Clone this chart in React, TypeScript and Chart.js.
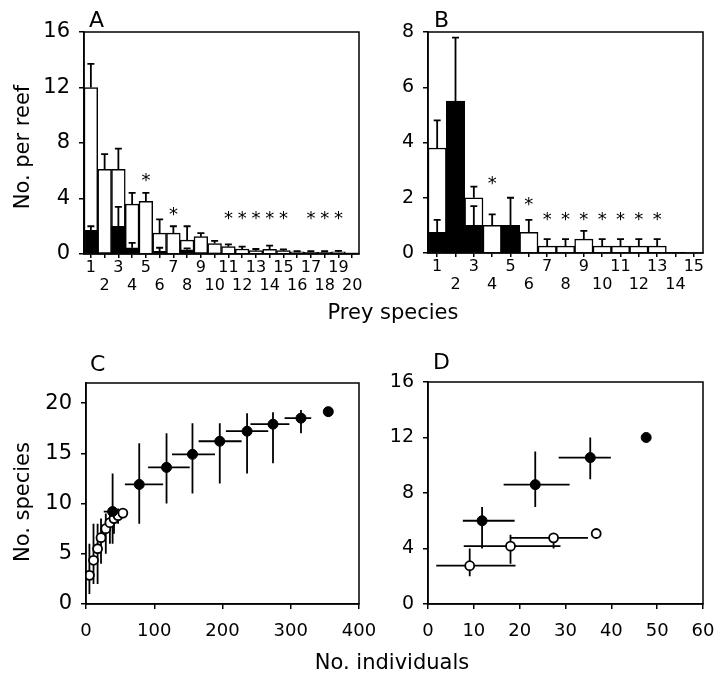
import React, { useEffect, useRef } from "react";
import { Chart, registerables } from "chart.js";
Chart.register(...registerables);

const W = 718;
const H = 676;
const FONT = '"DejaVu Sans", "Liberation Sans", sans-serif';

// ---------- Panel A data ----------
const preyA = ["1","2","3","4","5","6","7","8","9","10","11","12","13","14","15","16","17","18","19","20"];
const aOpen = [12, 6.1, 6.1, 3.6, 3.8, 1.5, 1.5, 1.0, 1.25, 0.75, 0.53, 0.36, 0.24, 0.34, 0.24, 0.15, 0.12, 0.12, 0.15, 0.08];
const aOpenErr = [13.7, 7.2, 7.6, 4.4, 4.4, 2.5, 2.0, 2.0, 1.5, 0.95, 0.7, 0.53, 0.36, 0.6, 0.34, 0.2, 0.2, 0.2, 0.22, null];
const aFilled = [1.7, 0.1, 2.0, 0.45, 0, 0.2, 0, 0.3, 0.1, 0.08, 0.05, 0.05, 0.05, 0.05, 0.05, 0.08, 0.08, 0.08, 0.08, 0.05];
const aFilledErr = [2.0, null, 3.4, 0.8, null, 0.45, null, 0.4, null, null, null, null, null, null, null, null, null, null, null, null];
const aStarCats = ["5", "7", "11", "12", "13", "14", "15", "17", "18", "19"];
const aStarY = [5.6, 3.2, 2.9, 2.9, 2.9, 2.9, 2.9, 2.9, 2.9, 2.9];

// ---------- Panel B data ----------
const preyB = ["1","2","3","4","5","6","7","8","9","10","11","12","13","14","15"];
const bOpen = [3.8, 0, 2.0, 1.0, 0, 0.75, 0.25, 0.25, 0.5, 0.25, 0.25, 0.25, 0.25, 0, 0.02];
const bOpenErr = [4.8, null, 2.4, 1.4, null, 1.2, 0.5, 0.5, 0.8, 0.5, 0.5, 0.5, 0.5, null, null];
const bFilled = [0.75, 5.5, 1.0, 0, 1.0, 0, 0, 0, 0, 0, 0, 0, 0, 0, 0];
const bFilledErr = [1.2, 7.8, 1.7, null, 2.0, null, null, null, null, null, null, null, null, null, null];
const bStarCats = ["4", "6", "7", "8", "9", "10", "11", "12", "13"];
const bStarY = [2.68, 1.92, 1.38, 1.38, 1.38, 1.38, 1.38, 1.38, 1.38];

// ---------- Panel C data ----------
const cFilledX = [39, 78, 118, 156, 196, 236, 274, 315, 355];
const cFilledY = [9.2, 11.9, 13.6, 14.9, 16.2, 17.2, 17.9, 18.5, 19.15];
const cFilledYLo = [6, 8, 10, 11, 12, 13, 14, 17, null];
const cFilledYHi = [13, 16, 17, 18, 18, 19, 19.1, 19.3, null];
const cFilledXLo = [26, 57, 91, 126, 165, 205, 241, 291, null];
const cFilledXHi = [50, 113, 152, 189, 228, 267, 298, 330, null];
const cOpenX = [5, 11, 17, 22, 29, 35, 41, 47, 54];
const cOpenY = [2.85, 4.35, 5.5, 6.6, 7.5, 8.1, 8.5, 8.8, 9.05];
const cOpenYLo = [1, 2, 2, 4, 5, 6, 7, 8, null];
const cOpenYHi = [6, 8, 8, 8.5, 9, 9, 9.5, 9.5, null];
const cOpenXLo = [2, 7, 12, 17, 24, 30, 36, 42, null];
const cOpenXHi = [9, 15, 22, 27, 34, 40, 46, 52, null];

// ---------- Panel D data ----------
const dFilledX = [11.8, 23.4, 35.4, 47.6];
const dFilledY = [6.0, 8.6, 10.55, 12.0];
const dFilledYLo = [4, 7, 9, null];
const dFilledYHi = [7, 11, 12, null];
const dFilledXLo = [7.6, 16.5, 28.5, null];
const dFilledXHi = [18.9, 30.9, 39.9, null];
const dOpenX = [9.1, 18.0, 27.4, 36.7];
const dOpenY = [2.76, 4.17, 4.77, 5.08];
const dOpenYLo = [2, 2.9, 4.0, null];
const dOpenYHi = [4, 5.0, 4.9, null];
const dOpenXLo = [1.8, 7.8, 18, null];
const dOpenXHi = [19.1, 28.9, 34.9, null];

type N = number | null;

const framePlugin = {
  id: "frame",
  afterDraw(chart: any) {
    const { ctx, chartArea } = chart;
    const { left, top, right, bottom } = chartArea;
    ctx.save();
    ctx.strokeStyle = "#000";
    ctx.lineWidth = 1.5;
    ctx.strokeRect(left, top, right - left, bottom - top);
    ctx.restore();
  },
};

function barErrPlugin(sets: { ds: number; hi: N[] }[]) {
  return {
    id: "barErr",
    afterDatasetsDraw(chart: any) {
      const ctx = chart.ctx;
      const ys = chart.scales.y;
      ctx.save();
      ctx.strokeStyle = "#000";
      ctx.lineWidth = 1.8;
      sets.forEach(({ ds, hi }) => {
        const meta = chart.getDatasetMeta(ds);
        meta.data.forEach((el: any, i: number) => {
          const v = hi[i];
          if (v == null) return;
          const yT = ys.getPixelForValue(v);
          ctx.beginPath();
          ctx.moveTo(el.x, el.y);
          ctx.lineTo(el.x, yT);
          ctx.moveTo(el.x - 3.5, yT);
          ctx.lineTo(el.x + 3.5, yT);
          ctx.stroke();
        });
      });
      ctx.restore();
    },
  };
}

function starPlugin(labels: string[], cats: string[], vals: number[]) {
  return {
    id: "stars",
    afterDatasetsDraw(chart: any) {
      const ctx = chart.ctx;
      const xs = chart.scales.x;
      const ys = chart.scales.y;
      ctx.save();
      ctx.fillStyle = "#000";
      ctx.font = "18px " + FONT;
      ctx.textAlign = "center";
      ctx.textBaseline = "alphabetic";
      cats.forEach((c, i) => {
        const x = xs.getPixelForValue(labels.indexOf(c));
        const y = ys.getPixelForValue(vals[i]);
        ctx.fillText("*", x, y + 10);
      });
      ctx.restore();
    },
  };
}

function scatterErrPlugin(sets: { x: number[]; y: number[]; xlo: N[]; xhi: N[]; ylo: N[]; yhi: N[] }[]) {
  return {
    id: "scErr",
    beforeDatasetsDraw(chart: any) {
      const ctx = chart.ctx;
      const xs = chart.scales.x;
      const ys = chart.scales.y;
      ctx.save();
      ctx.strokeStyle = "#000";
      ctx.lineWidth = 1.8;
      sets.forEach((s) => {
        s.x.forEach((xv, i) => {
          const px = xs.getPixelForValue(xv);
          const py = ys.getPixelForValue(s.y[i]);
          ctx.beginPath();
          const yl = s.ylo[i], yh = s.yhi[i];
          if (yl != null && yh != null) {
            ctx.moveTo(px, ys.getPixelForValue(yl));
            ctx.lineTo(px, ys.getPixelForValue(yh));
          }
          const xl = s.xlo[i], xh = s.xhi[i];
          if (xl != null && xh != null) {
            ctx.moveTo(xs.getPixelForValue(xl), py);
            ctx.lineTo(xs.getPixelForValue(xh), py);
          }
          ctx.stroke();
        });
      });
      ctx.restore();
    },
  };
}

function yAxis(max: number, step: number, size: number) {
  return {
    type: "linear",
    position: "left",
    min: 0,
    max,
    ticks: { stepSize: step, includeBounds: false, color: "#000", font: { family: FONT, size }, padding: 9 },
    grid: { display: true, drawOnChartArea: false, drawTicks: true, tickLength: 5, color: "#000", lineWidth: 1.5 },
    border: { display: true, color: "#000", width: 1.5 },
    afterFit(s: any) { s.width = 70; s.paddingTop = 0; s.paddingBottom = 0; },
  };
}

function xLinAxis(max: number, step: number) {
  return {
    type: "linear",
    position: "bottom",
    min: 0,
    max,
    ticks: { stepSize: step, includeBounds: false, color: "#000", font: { family: FONT, size: 18 }, padding: 12, maxRotation: 0 },
    grid: { display: true, drawOnChartArea: false, drawTicks: true, tickLength: 5, color: "#000", lineWidth: 1.5 },
    border: { display: true, color: "#000", width: 1.5 },
    afterFit(s: any) { s.height = 60; s.paddingLeft = 0; s.paddingRight = 0; },
  };
}

function xCatAxis(labels: string[]) {
  return {
    type: "category",
    position: "bottom",
    stacked: true,
    offset: true,
    ticks: {
      autoSkip: false,
      maxRotation: 0,
      minRotation: 0,
      color: "#000",
      font: { family: FONT, size: 16, lineHeight: 1.1 },
      padding: 1,
      callback: (_v: any, i: number) => (i % 2 === 0 ? [labels[i], ""] : ["", labels[i]]),
    },
    grid: { display: true, offset: false, drawOnChartArea: false, drawTicks: true, tickLength: 4, color: "#000", lineWidth: 1.5 },
    border: { display: true, color: "#000", width: 1.5 },
    afterFit(s: any) { s.height = 60; s.paddingLeft = 0; s.paddingRight = 0; },
  };
}

function pad(L: number, R: number, T: number, B: number) {
  return { left: L - 70, right: W - R, top: T, bottom: H - B - 60 };
}

function makeBar(canvas: HTMLCanvasElement, labels: string[], open: number[], filled: number[], openErr: N[], filledErr: N[], yMax: number, yStep: number, ySize: number, starCats: string[], starY: number[], box: number[]) {
  return new Chart(canvas, {
    type: "bar",
    data: {
      labels,
      datasets: [
        { data: filled, backgroundColor: "#000", borderColor: "#000", borderWidth: 1.5, barPercentage: 1, categoryPercentage: 1 },
        { data: open, backgroundColor: "#fff", borderColor: "#000", borderWidth: 1.5, barPercentage: 1, categoryPercentage: 1 },
      ],
    },
    options: {
      responsive: false,
      animation: false,
      devicePixelRatio: 1,
      layout: { padding: pad(box[0], box[1], box[2], box[3]), autoPadding: false },
      plugins: { legend: { display: false }, tooltip: { enabled: false } },
      scales: { x: xCatAxis(labels) as any, y: { ...(yAxis(yMax, yStep, ySize) as any), stacked: false } },
    },
    plugins: [
      framePlugin,
      barErrPlugin([{ ds: 1, hi: openErr }, { ds: 0, hi: filledErr }]),
      starPlugin(labels, starCats, starY),
    ],
  } as any);
}

function makeScatter(canvas: HTMLCanvasElement, fx: number[], fy: number[], ox: number[], oy: number[], errSets: any[], xMax: number, xStep: number, yMax: number, yStep: number, ySize: number, box: number[]) {
  return new Chart(canvas, {
    type: "scatter",
    data: {
      datasets: [
        { data: fx.map((x, i) => ({ x, y: fy[i] })), backgroundColor: "#000", borderColor: "#000", borderWidth: 1, pointRadius: 5 },
        { data: ox.map((x, i) => ({ x, y: oy[i] })), backgroundColor: "#fff", borderColor: "#000", borderWidth: 1.8, pointRadius: 4.5 },
      ],
    },
    options: {
      responsive: false,
      animation: false,
      devicePixelRatio: 1,
      layout: { padding: pad(box[0], box[1], box[2], box[3]), autoPadding: false },
      plugins: { legend: { display: false }, tooltip: { enabled: false } },
      scales: { x: xLinAxis(xMax, xStep) as any, y: yAxis(yMax, yStep, ySize) as any },
    },
    plugins: [framePlugin, scatterErrPlugin(errSets)],
  } as any);
}

function Panel({ make }: { make: (c: HTMLCanvasElement) => Chart }) {
  const ref = useRef<HTMLCanvasElement>(null);
  useEffect(() => {
    const ch = make(ref.current!);
    return () => ch.destroy();
  }, []);
  return <canvas ref={ref} width={W} height={H} style={{ position: "absolute", left: 0, top: 0, width: W, height: H }} />;
}

const txt: React.CSSProperties = { position: "absolute", fontFamily: FONT, fontSize: 21, lineHeight: "21px", color: "#000", whiteSpace: "nowrap" };
const letter: React.CSSProperties = { ...txt, fontSize: 22, lineHeight: "22px" };

export default function App() {
  return (
    <div style={{ position: "fixed", left: 0, top: 0, width: W, height: H, background: "#fff", overflow: "hidden" }}>
      <Panel make={(c) => makeBar(c, preyA, aOpen, aFilled, aOpenErr, aFilledErr, 16, 4, 21, aStarCats, aStarY, [84, 359, 32, 254])} />
      <Panel make={(c) => makeBar(c, preyB, bOpen, bFilled, bOpenErr, bFilledErr, 8, 2, 19, bStarCats, bStarY, [428, 703, 32, 253])} />
      <Panel
        make={(c) =>
          makeScatter(c, cFilledX, cFilledY, cOpenX, cOpenY,
            [
              { x: cFilledX, y: cFilledY, xlo: cFilledXLo, xhi: cFilledXHi, ylo: cFilledYLo, yhi: cFilledYHi },
              { x: cOpenX, y: cOpenY, xlo: cOpenXLo, xhi: cOpenXHi, ylo: cOpenYLo, yhi: cOpenYHi },
            ],
            400, 100, 22, 5, 21, [86, 359, 383, 604])
        }
      />
      <Panel
        make={(c) =>
          makeScatter(c, dFilledX, dFilledY, dOpenX, dOpenY,
            [
              { x: dFilledX, y: dFilledY, xlo: dFilledXLo, xhi: dFilledXHi, ylo: dFilledYLo, yhi: dFilledYHi },
              { x: dOpenX, y: dOpenY, xlo: dOpenXLo, xhi: dOpenXHi, ylo: dOpenYLo, yhi: dOpenYHi },
            ],
            60, 10, 16, 4, 19, [428, 703, 382, 604])
        }
      />
      <div style={{ ...letter, left: 89, top: 9 }}>A</div>
      <div style={{ ...letter, left: 434, top: 9 }}>B</div>
      <div style={{ ...letter, left: 90, top: 353 }}>C</div>
      <div style={{ ...letter, left: 433, top: 351 }}>D</div>
      <div style={{ ...txt, left: 393, top: 302, transform: "translateX(-50%)" }}>Prey species</div>
      <div style={{ ...txt, left: 392, top: 652, transform: "translateX(-50%)" }}>No. individuals</div>
      <div style={{ ...txt, left: 22, top: 147, transform: "translate(-50%, -50%) rotate(-90deg)" }}>No. per reef</div>
      <div style={{ ...txt, left: 22, top: 502, transform: "translate(-50%, -50%) rotate(-90deg)" }}>No. species</div>
    </div>
  );
}
